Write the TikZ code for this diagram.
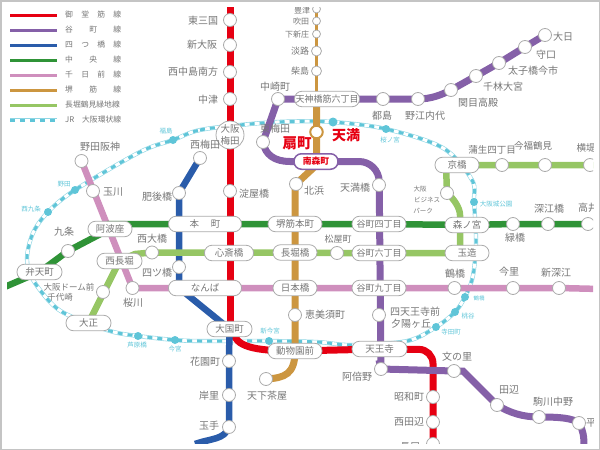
\documentclass[tikz,border=0pt]{standalone}
\usepackage{fontspec}
\setmainfont{Noto Sans CJK JP}
\usetikzlibrary{backgrounds}
\definecolor{midored}{HTML}{E60012}
\definecolor{taniviolet}{HTML}{8560A8}
\definecolor{yotsublue}{HTML}{2A5CAA}
\definecolor{chuogreen}{HTML}{2F9337}
\definecolor{senpink}{HTML}{CF8FBD}
\definecolor{sakaibrown}{HTML}{CC9640}
\definecolor{nagalime}{HTML}{96C664}
\definecolor{jrcyan}{HTML}{5FC5D8}
\definecolor{txtgray}{HTML}{767676}
\definecolor{ringgray}{HTML}{ABABAB}
\newcommand{\fs}[1]{\fontsize{#1}{#1}\selectfont}
\newcommand{\maparea}{\clip (7,7) rectangle (593,443);}
\tikzset{
	mido/.style={draw=midored, line width=7},
	tani/.style={draw=taniviolet, line width=7},
	yotsu/.style={draw=yotsublue, line width=6.5},
	chuo/.style={draw=chuogreen, line width=6.5},
	sen/.style={draw=senpink, line width=6.5},
	sakai/.style={draw=sakaibrown, line width=7},
	naga/.style={draw=nagalime, line width=6.5},
	jrloop/.style={draw=jrcyan!70, line width=4.2,
		postaction={draw=white, line width=3},
		postaction={draw=jrcyan, line width=3, dash pattern=on 5pt off 5pt}},
	stn/.style={circle, draw=ringgray, line width=0.8, fill=white, minimum size=13, inner sep=0, outer sep=0},
	tinystn/.style={stn, minimum size=8},
	jrstn/.style={circle, fill=jrcyan, minimum size=8, inner sep=0, outer sep=0},
	pill/.style={draw=ringgray, line width=0.8, fill=white, rounded corners=7.5pt, minimum width=44, minimum height=15.5,
		inner sep=0, outer sep=0, text=txtgray, font=\fs{9.5}},
	lbl/.style={text=txtgray, inner sep=0, font=\fs{10}},
	tinylbl/.style={text=txtgray, inner sep=0, font=\fs{8}},
	jrlbl/.style={text=jrcyan, inner sep=0, font=\fs{6.5}},
	leglbl/.style={text=txtgray, inner sep=0, anchor=west, font=\fs{7.8}},
	bigred/.style={text=midored, inner sep=0, font=\fs{14.5}\bfseries},
}
\begin{document}
\begin{tikzpicture}[x=1pt, y=-1pt]
	\useasboundingbox (0,0) rectangle (600,450);
	\draw[ringgray!70, line width=3] (0,0) rectangle (600,450);

	\begin{scope}
	\maparea
	% legend
	\draw[mido, line width=3] (10,15) -- (57,15);
	\draw[tani, line width=3] (10,30) -- (57,30);
	\draw[yotsu, line width=3] (10,45) -- (57,45);
	\draw[chuo, line width=3] (10,60) -- (57,60);
	\draw[sen, line width=3] (10,75) -- (57,75);
	\draw[sakai, line width=3] (10,90) -- (57,90);
	\draw[naga, line width=3] (10,105) -- (57,105);
	\draw[jrloop] (10,120) -- (57,120);
	\node[leglbl] (legmido) at (65,15) {\makebox[56pt][s]{御\hfill 堂\hfill 筋\hfill 線}};
	\node[leglbl] (legtani) at (65,30) {\makebox[56pt][s]{谷\hfill 町\hfill 線}};
	\node[leglbl] (legyotsu) at (65,45) {\makebox[56pt][s]{四\hfill つ\hfill 橋\hfill 線}};
	\node[leglbl] (legchuo) at (65,60) {\makebox[56pt][s]{中\hfill 央\hfill 線}};
	\node[leglbl] (legsen) at (65,75) {\makebox[56pt][s]{千\hfill 日\hfill 前\hfill 線}};
	\node[leglbl] (legsakai) at (65,90) {\makebox[56pt][s]{堺\hfill 筋\hfill 線}};
	\node[leglbl] (legnaga) at (65,105) {\makebox[56pt][s]{長堀鶴見緑地線}};
	\node[leglbl] (legjr) at (65,120) {\makebox[56pt][s]{JR\hfill 大阪環状線}};

	% midosuji
	\coordinate (midotop) at (230,0);
	\node[stn] (higashimikuni) at (230,20) {};
	\node[lbl] (higashimikunit) at (203,21) {東三国};
	\node[stn] (shinosaka) at (230,45) {};
	\node[lbl] (shinosakat) at (202,45) {新大阪};
	\node[stn] (nishinakajima) at (230,72) {};
	\node[lbl] (nishinakajimat) at (193,72) {西中島南方};
	\node[stn] (nakatsu) at (230,99) {};
	\node[lbl] (nakatsut) at (208,100) {中津};
	\node[stn, minimum size=28] (umeda) at (230,135) {};
	\node[lbl, align=center, font=\fs{9.5}] (umedat) at (230,135) {大阪\\[2.5pt]梅田};
	\node[stn] (yodoyabashi) at (230,191) {};
	\node[lbl] (yodoyabashit) at (254,194) {淀屋橋};
	\node[pill, minimum width=73] (honmachi) at (205,224) {本\hspace{12pt}町};
	\node[pill, minimum width=49] (shinsaibashi) at (229,253) {心斎橋};
	\node[pill, minimum width=73] (nanba) at (205,288) {なんば};
	\node[pill, minimum width=45] (daikokucho) at (229.5,329) {大国町};
	\node[pill, minimum width=54] (dobutsuen) at (295,351) {動物園前};
	\node[pill, minimum width=55] (tennoji) at (379.5,349) {天王寺};
	\coordinate (midobend) at (433,349.5);
	\node[stn] (showacho) at (433,397) {};
	\node[lbl] (showachot) at (409,397) {昭和町};
	\node[stn] (nishitanabe) at (433,422) {};
	\node[lbl] (nishitanabet) at (409,422) {西田辺};
	\node[stn] (nagai) at (433,444) {};
	\node[lbl] (nagait) at (410,447) {長居};

	% yotsubashi
	\node[stn] (nishiumeda) at (200,158) {};
	\node[lbl] (nishiumedat) at (205,145) {西梅田};
	\node[stn] (higobashi) at (179,193) {};
	\node[lbl] (higobashit) at (157,197) {肥後橋};
	\node[stn] (yotsubashi) at (179,267) {};
	\node[lbl] (yotsubashit) at (157,273) {四ツ橋};
	\coordinate (yotsubend) at (179,288);
	\node[stn] (hanazono) at (229,361) {};
	\node[lbl] (hanazonot) at (205,362) {花園町};
	\node[stn] (kishinosato) at (229,395) {};
	\node[lbl] (kishinosatot) at (209,396) {岸里};
	\node[stn] (tamade) at (229,427) {};
	\node[lbl] (tamadet) at (209,426) {玉手};
	\coordinate (yotsuend) at (195,444);

	% tanimachi
	\node[stn] (dainichi) at (545,35) {};
	\node[lbl] (dainichit) at (563,37) {大日};
	\node[stn] (moriguchi) at (525,47) {};
	\node[lbl] (moriguchit) at (546,55) {守口};
	\node[stn] (taishibashi) at (499,63) {};
	\node[lbl] (taishibashit) at (533,71) {太子橋今市};
	\node[stn] (senbayashi) at (476,76) {};
	\node[lbl] (senbayashit) at (503,87) {千林大宮};
	\node[stn] (sekime) at (451,90) {};
	\node[lbl] (sekimet) at (478,103) {関目高殿};
	\node[stn] (noe) at (418,99) {};
	\node[lbl] (noet) at (425,116) {野江内代};
	\node[stn] (miyakojima) at (383,99) {};
	\node[lbl] (miyakojimat) at (382,116) {都島};
	\node[pill, minimum width=65, font=\fs{9}] (tenroku) at (327,99) {天神橋筋六丁目};
	\node[stn] (nakazaki) at (278,99) {};
	\node[lbl] (nakazakit) at (275,87) {中崎町};
	\node[stn] (higashiumeda) at (263,142) {};
	\node[lbl] (higashiumedat) at (275,129) {東梅田};
	\node[pill, draw=taniviolet, line width=1.5, text=midored, font=\fs{8.8}\bfseries] (minamimorimachi) at (316,161.5) {南森町};
	\coordinate (tanibend) at (379,161.5);
	\node[stn] (tenmabashi) at (379,185) {};
	\node[lbl] (tenmabashit) at (355,188) {天満橋};
	\node[pill, minimum width=54, font=\fs{9}] (tani4) at (379,224) {谷町四丁目};
	\node[pill, minimum width=54, font=\fs{9}] (tani6) at (379,253) {谷町六丁目};
	\node[pill, minimum width=54, font=\fs{9}] (tani9) at (379,288) {谷町九丁目};
	\node[stn] (shitennoji) at (379,315) {};
	\node[lbl] (shitennojit) at (415,312) {四天王寺前};
	\node[lbl] (yuhigaokat) at (411,323.5) {夕陽ヶ丘};
	\node[stn] (abeno) at (381,369) {};
	\node[lbl] (abenot) at (357,377) {阿倍野};
	\node[stn] (fuminosato) at (454,371) {};
	\node[lbl] (fuminosatot) at (457,357) {文の里};
	\coordinate (tanibendb) at (463,371);
	\node[stn] (tanabe) at (497,405) {};
	\node[lbl] (tanabet) at (509,390) {田辺};
	\node[stn] (komagawa) at (539,417) {};
	\node[lbl] (komagawat) at (553,402) {駒川中野};
	\node[stn] (hirano) at (579,423) {};
	\node[lbl] (hiranot) at (596,423) {平野};
	\coordinate (taniend) at (584,446);

	% sakaisuji
	\node[tinystn] (toyotsu) at (316.5,9) {};
	\node[tinylbl] (toyotsut) at (302,10) {豊津};
	\node[tinystn] (suita) at (316.5,21) {};
	\node[tinylbl] (suitat) at (301,21) {吹田};
	\node[tinystn] (shinjo) at (316.5,34) {};
	\node[tinylbl] (shinjot) at (297,34) {下新庄};
	\node[stn, minimum size=10] (awaji) at (316.5,51) {};
	\node[lbl, font=\fs{9}] (awajit) at (300,51) {淡路};
	\node[stn, minimum size=10] (kunijima) at (316.5,71) {};
	\node[lbl, font=\fs{9}] (kunijimat) at (300,71) {柴島};
	\coordinate (sakaitop) at (316.5,99);
	\node[circle, draw=sakaibrown, line width=2, fill=white, minimum size=12.5, inner sep=0] (ogimachi) at (316.5,132) {};
	\node[bigred] (ogimachit) at (297,143) {扇町};
	\coordinate (sakaibend) at (316.5,165);
	\node[stn] (kitahama) at (296,184) {};
	\node[lbl] (kitahamat) at (314,191) {北浜};
	\node[pill, minimum width=54] (sakaihonmachi) at (295,224) {堺筋本町};
	\node[pill] (nagahoribashi) at (295,252.5) {長堀橋};
	\node[pill] (nipponbashi) at (295,288) {日本橋};
	\node[stn] (ebisucho) at (295,315) {};
	\node[lbl] (ebisuchot) at (325,315) {恵美須町};
	\node[stn] (tengachaya) at (266,379) {};
	\node[lbl] (tengachayat) at (267,396) {天下茶屋};

	% sennichimae
	\node[stn] (nodahanshin) at (81.5,161) {};
	\node[lbl] (nodahanshint) at (100,147) {野田阪神};
	\node[stn] (tamagawa) at (93,191) {};
	\node[lbl] (tamagawat) at (113,192) {玉川};
	\node[pill] (awaza) at (110,229) {阿波座};
	\node[pill, minimum width=45] (nishinagahori) at (119.5,261) {西長堀};
	\node[stn] (sakuragawa) at (132.5,288) {};
	\node[lbl] (sakuragawat) at (133,303) {桜川};
	\node[stn] (tsuruhashi) at (454.5,288) {};
	\node[lbl] (tsuruhashit) at (455,274) {鶴橋};
	\node[stn] (imazato) at (513,288) {};
	\node[lbl] (imazatot) at (509,272) {今里};
	\node[stn] (shinfukae) at (559,288) {};
	\node[lbl] (shinfukaet) at (556,273) {新深江};
	\coordinate (senend) at (600,289);

	% chuo
	\coordinate (chuoend) at (0,289);
	\node[pill, minimum width=45] (bentencho) at (39.5,272) {弁天町};
	\node[stn] (kujo) at (68,251) {};
	\node[lbl] (kujot) at (64,232) {九条};
	\node[pill] (morinomiya) at (467,225) {森ノ宮};
	\node[stn] (midoribashi) at (513,224) {};
	\node[lbl] (midoribashit) at (515,238) {緑橋};
	\node[stn] (fukaebashi) at (548,224) {};
	\node[lbl] (fukaebashit) at (549,209) {深江橋};
	\node[stn] (takaida) at (588,224) {};
	\node[lbl] (takaidat) at (593,208) {高井田};

	% nagahori
	\node[pill, minimum width=45] (taisho) at (88.5,323) {大正};
	\node[stn] (domemae) at (103,292) {};
	\node[tinylbl, font=\fs{8.5}] (domemaet) at (69,287) {大阪ドーム前};
	\node[tinylbl, font=\fs{8.5}] (chiyozakit) at (60,297.5) {千代崎};
	\node[stn] (nishiohashi) at (152,252.5) {};
	\node[lbl] (nishiohashit) at (152,239) {西大橋};
	\node[stn] (matsuyamachi) at (337,253) {};
	\node[lbl, font=\fs{9}] (matsuyamachit) at (338,239) {松屋町};
	\node[pill] (tamatsukuri) at (467,253) {玉造};
	\node[stn] (obp) at (447,193) {};
	\node[tinylbl, font=\fs{6.5}] (obpa) at (420,189) {大阪};
	\node[tinylbl, font=\fs{6.5}] (obpb) at (427,200) {ビジネス};
	\node[tinylbl, font=\fs{6.5}] (obpc) at (423,211) {パーク};
	\node[pill] (kyobashi) at (457,165) {京橋};
	\node[stn] (gamo) at (502,165) {};
	\node[lbl, font=\fs{9.5}] (gamot) at (492,150) {蒲生四丁目};
	\node[stn] (imafuku) at (545,165) {};
	\node[lbl, font=\fs{9.5}] (imafukut) at (533,146) {今福鶴見};
	\node[stn] (yokozutsumi) at (590,165) {};
	\node[lbl, font=\fs{9.5}] (yokozutsumit) at (586,148) {横堤};
	\coordinate (nagaend) at (600,165);

	% jr loop
	\node[jrstn] (fukushima) at (173,140) {};
	\node[jrlbl] (fukushimat) at (166,131) {福島};
	\node[jrstn, minimum size=9] (tenma) at (333,122) {};
	\node[bigred, font=\fs{14}\bfseries] (tenmat) at (346,135) {天満};
	\node[jrstn] (sakuranomiya) at (386,129) {};
	\node[jrlbl] (sakuranomiyat) at (390,140) {桜ノ宮};
	\node[jrstn] (osakajo) at (474,202) {};
	\node[jrlbl] (osakajot) at (496,204) {大阪城公園};
	\node[jrstn] (jrtsuruhashi) at (465,297) {};
	\node[jrlbl, font=\fs{5.5}] (jrtsuruhashit) at (479,298) {鶴橋};
	\node[jrstn] (momodani) at (455,312) {};
	\node[jrlbl] (momodanit) at (468,316.5) {桃谷};
	\node[jrstn] (teradacho) at (436,327) {};
	\node[jrlbl] (teradachot) at (451,332) {寺田町};
	\node[jrstn] (shinimamiya) at (269,341) {};
	\node[jrlbl] (shinimamiyat) at (270,331) {新今宮};
	\node[jrstn] (imamiya) at (175,340) {};
	\node[jrlbl] (imamiyat) at (175,349) {今宮};
	\node[jrstn] (ashiharabashi) at (138,336) {};
	\node[jrlbl] (ashiharabashit) at (137,345) {芦原橋};
	\node[jrstn] (nishikujo) at (48,212) {};
	\node[jrlbl] (nishikujot) at (31,209) {西九条};
	\node[jrstn] (noda) at (75,190) {};
	\node[jrlbl] (nodat) at (64,184) {野田};
	\end{scope}

	\begin{scope}[on background layer]
	\maparea
	\draw[jrloop] plot[smooth cycle, tension=0.55] coordinates {(fukushima.center) (200,130) (250,124) (290,121.5) (tenma.center)
		(sakuranomiya.center) (443,148) (472,180) (osakajo.center) (476,238) (475,260) (472,280) (jrtsuruhashi.center)
		(momodani.center) (teradacho.center) (407,341) (352,345) (317,342) (shinimamiya.center) (200,341) (imamiya.center)
		(ashiharabashi.center) (110,331) (68,315) (50,302) (32,278) (27,258) (33,233) (nishikujo.center) (noda.center) (140,152)};

	\draw[mido] (midotop) -- (daikokucho.center -| midotop);
	\draw[mido] (233,332) .. controls (236,346) and (252,351) .. (dobutsuen.center) -- (tennoji.center);
	\draw[mido, rounded corners=14pt] (tennoji.center) -- (midobend) -- (nagai.center);

	\draw[sakai, line width=2.5] (toyotsu.center) -- (sakaitop);
	\draw[sakai] (sakaitop) -- (ogimachi.center) -- (sakaibend) -- (kitahama.center) -- (295,190) -- (sakaihonmachi.center)
		-- (nagahoribashi.center) -- (nipponbashi.center) -- (ebisucho.center) -- (dobutsuen.center)
		.. controls (295,374) and (285,378) .. (tengachaya.center);

	\draw[yotsu] (nishiumeda.center) -- (higobashi.center) -- (yotsubashi.center) -- (yotsubend) -- (daikokucho.center)
		-- (hanazono.center) -- (kishinosato.center) -- (tamade.center)
		.. controls (224,440) and (212,438) .. (yotsuend);

	\draw[sen] (nodahanshin.center) -- (sakuragawa.center) -- (nanba.center) -- (nipponbashi.center) -- (tani9.center)
		-- (tsuruhashi.center) -- (imazato.center) -- (shinfukae.center) -- (senend);

	\draw[chuo] (chuoend) -- (bentencho.center) -- (kujo.center) -- (awaza.center) -- (awaza.center |- honmachi.center)
		-- (honmachi.center) -- (sakaihonmachi.center) -- (tani4.center) -- (morinomiya.center) -- (midoribashi.center)
		-- (fukaebashi.center) -- (takaida.center);

	\draw[naga] (taisho.center) -- (nishinagahori.center) -- (135,254) -- (nishiohashi.center) -- (shinsaibashi.center |- nishiohashi.center)
		-- (nagahoribashi.center) -- (matsuyamachi.center) -- (tani6.center) -- (tamatsukuri.center) -- (460,253) -- (460,215)
		.. controls (460,208) and (454,199) .. (obp.center) -- (446,165) -- (kyobashi.center) -- (gamo.center)
		-- (imafuku.center) -- (yokozutsumi.center) -- (nagaend);

	\draw[tani] (dainichi.center) -- (moriguchi.center) -- (taishibashi.center) -- (senbayashi.center) -- (sekime.center)
		.. controls (441,95) and (431,99) .. (noe.center) -- (miyakojima.center) -- (tenroku.center) -- (nakazaki.center)
		-- (higashiumeda.center) .. controls (265,155) and (275,161.5) .. (290,161.5) -- (minamimorimachi.center);
	\draw[tani, rounded corners=20pt] (minamimorimachi.center) -- (tanibend) -- (abeno.center);
	\draw[tani] (379,360) -- (abeno.center) -- (fuminosato.center) -- (tanibendb) -- (tanabe.center)
		.. controls (510,413) and (523,417) .. (komagawa.center) .. controls (560,417) and (572,418) .. (hirano.center)
		.. controls (583,430) and (584,436) .. (taniend);
	\end{scope}
\end{tikzpicture}
\end{document}
